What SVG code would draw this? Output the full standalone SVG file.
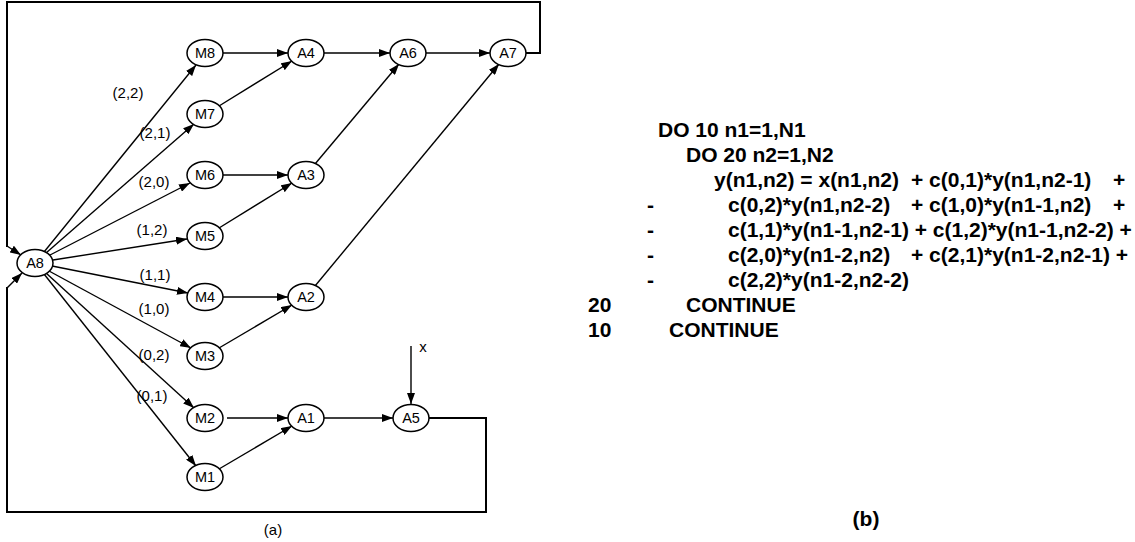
<svg xmlns="http://www.w3.org/2000/svg" width="1135" height="542" viewBox="0 0 1135 542">
<style>
.n ellipse{fill:#fff;stroke:#000;stroke-width:1.5}
.n text{font-family:"Liberation Sans",Arial,sans-serif;font-size:14.5px;text-anchor:middle;fill:#000}
.e{stroke:#000;stroke-width:1.4;fill:none;marker-end:url(#ah)}
.loop{stroke:#000;stroke-width:2;fill:none}
.lbl{font-family:"Liberation Sans",Arial,sans-serif;font-size:15px;fill:#000;text-anchor:middle}
.code{font-family:"Liberation Sans",Arial,sans-serif;font-size:21px;font-weight:bold;fill:#000}
</style>
<defs>
<marker id="ah" markerUnits="userSpaceOnUse" markerWidth="11" markerHeight="8" refX="11" refY="4" orient="auto">
<path d="M0,0 L11,4 L0,8 z" fill="#000"/>
</marker>
</defs>
<g id="connectors">
<path class="loop" d="M526,53 H540 V2 H7 V247"/>
<path class="e" d="M7,246 L21,255"/>
<path class="loop" d="M429,418 H486 V512 H7 V287"/>
<path class="e" d="M7,288 L22,273"/>
<line class="e" x1="44" y1="252" x2="196" y2="65"/>
<line class="e" x1="46" y1="253" x2="194" y2="124"/>
<line class="e" x1="50" y1="255" x2="190" y2="183"/>
<line class="e" x1="53" y1="260" x2="187" y2="239"/>
<line class="e" x1="52" y1="266" x2="188" y2="293"/>
<line class="e" x1="49" y1="271" x2="191" y2="348"/>
<line class="e" x1="46" y1="273" x2="194" y2="408"/>
<line class="e" x1="44" y1="274" x2="196" y2="466"/>
<line class="e" x1="223" y1="53" x2="288" y2="53"/>
<line class="e" x1="219" y1="106" x2="292" y2="61"/>
<line class="e" x1="223" y1="175" x2="288" y2="175"/>
<line class="e" x1="219" y1="228" x2="292" y2="183"/>
<line class="e" x1="223" y1="297" x2="288" y2="297"/>
<line class="e" x1="219" y1="348" x2="292" y2="305"/>
<line class="e" x1="227" y1="418" x2="288" y2="418"/>
<line class="e" x1="219" y1="469" x2="292" y2="426"/>
<line class="e" x1="324" y1="53" x2="390" y2="53"/>
<line class="e" x1="426" y1="53" x2="490" y2="53"/>
<line class="e" x1="315" y1="164" x2="399" y2="64"/>
<line class="e" x1="315" y1="286" x2="499" y2="64"/>
<line class="e" x1="324" y1="418" x2="393" y2="418"/>
<line class="e" x1="411" y1="346" x2="411" y2="404"/>
</g>
<g id="edge-labels">
<text class="lbl" x="128" y="98">(2,2)</text>
<text class="lbl" x="155" y="138">(2,1)</text>
<text class="lbl" x="154" y="187">(2,0)</text>
<text class="lbl" x="152" y="235">(1,2)</text>
<text class="lbl" x="155" y="280">(1,1)</text>
<text class="lbl" x="154" y="314">(1,0)</text>
<text class="lbl" x="154" y="360">(0,2)</text>
<text class="lbl" x="152" y="401">(0,1)</text>
<text class="lbl" x="423" y="352">x</text>
<text class="lbl" x="273" y="535">(a)</text>
</g>
<g id="A8" class="n"><ellipse cx="35" cy="263" rx="18" ry="13.5"/><text x="35" y="268">A8</text></g>
<g id="M8" class="n"><ellipse cx="205" cy="53" rx="18" ry="13.5"/><text x="205" y="58">M8</text></g>
<g id="M7" class="n"><ellipse cx="205" cy="114" rx="18" ry="13.5"/><text x="205" y="119">M7</text></g>
<g id="M6" class="n"><ellipse cx="205" cy="175" rx="18" ry="13.5"/><text x="205" y="180">M6</text></g>
<g id="M5" class="n"><ellipse cx="205" cy="236" rx="18" ry="13.5"/><text x="205" y="241">M5</text></g>
<g id="M4" class="n"><ellipse cx="205" cy="297" rx="18" ry="13.5"/><text x="205" y="302">M4</text></g>
<g id="M3" class="n"><ellipse cx="205" cy="356" rx="18" ry="13.5"/><text x="205" y="361">M3</text></g>
<g id="M2" class="n"><ellipse cx="205" cy="418" rx="18" ry="13.5"/><text x="205" y="423">M2</text></g>
<g id="M1" class="n"><ellipse cx="205" cy="477" rx="18" ry="13.5"/><text x="205" y="482">M1</text></g>
<g id="A4" class="n"><ellipse cx="306" cy="53" rx="18" ry="13.5"/><text x="306" y="58">A4</text></g>
<g id="A3" class="n"><ellipse cx="306" cy="175" rx="18" ry="13.5"/><text x="306" y="180">A3</text></g>
<g id="A2" class="n"><ellipse cx="306" cy="297" rx="18" ry="13.5"/><text x="306" y="302">A2</text></g>
<g id="A1" class="n"><ellipse cx="306" cy="418" rx="18" ry="13.5"/><text x="306" y="423">A1</text></g>
<g id="A6" class="n"><ellipse cx="408" cy="53" rx="18" ry="13.5"/><text x="408" y="58">A6</text></g>
<g id="A5" class="n"><ellipse cx="411" cy="418" rx="18" ry="13.5"/><text x="411" y="423">A5</text></g>
<g id="A7" class="n"><ellipse cx="508" cy="53" rx="18" ry="13.5"/><text x="508" y="58">A7</text></g>
<g id="code">
<text class="code" x="658" y="137">DO 10 n1=1,N1</text>
<text class="code" x="686" y="162">DO 20 n2=1,N2</text>
<text class="code" y="187"><tspan x="714">y(n1,n2) = x(n1,n2)</tspan><tspan x="911">+ c(0,1)*y(n1,n2-1)</tspan><tspan x="1113">+</tspan></text>
<text class="code" y="212"><tspan x="647">-</tspan><tspan x="728">c(0,2)*y(n1,n2-2)</tspan><tspan x="911">+ c(1,0)*y(n1-1,n2)</tspan><tspan x="1113">+</tspan></text>
<text class="code" y="237"><tspan x="647">-</tspan><tspan x="728">c(1,1)*y(n1-1,n2-1) + c(1,2)*y(n1-1,n2-2) +</tspan></text>
<text class="code" y="262"><tspan x="647">-</tspan><tspan x="728">c(2,0)*y(n1-2,n2)</tspan><tspan x="911">+ c(2,1)*y(n1-2,n2-1) +</tspan></text>
<text class="code" y="287"><tspan x="647">-</tspan><tspan x="728">c(2,2)*y(n1-2,n2-2)</tspan></text>
<text class="code" y="312"><tspan x="588">20</tspan><tspan x="686">CONTINUE</tspan></text>
<text class="code" y="337"><tspan x="588">10</tspan><tspan x="669">CONTINUE</tspan></text>
<text class="code" x="866" y="526" text-anchor="middle">(b)</text>
</g>
</svg>
